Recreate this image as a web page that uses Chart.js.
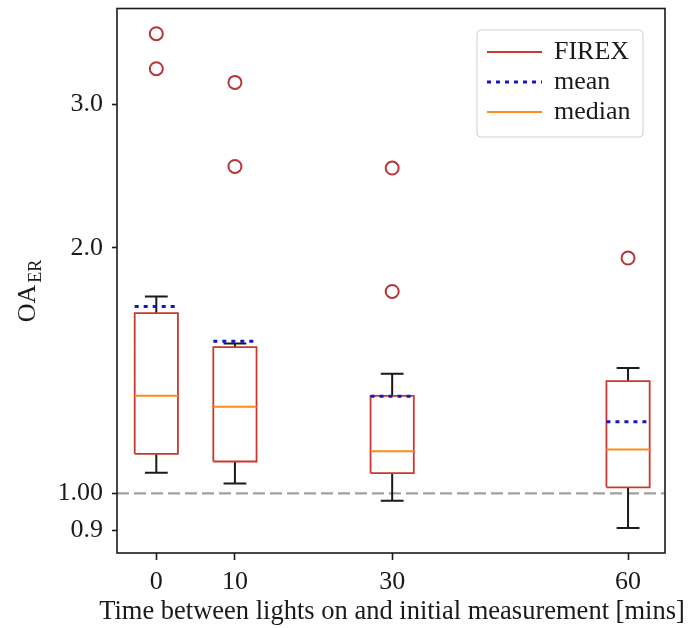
<!DOCTYPE html>
<html>
<head>
<meta charset="utf-8">
<script src="https://cdn.jsdelivr.net/npm/chart.js@4"></script>
<style>
  body { margin: 0; background: #fff; }
</style>
</head>
<body>
<canvas id="boxChart" width="692" height="628"></canvas>
<script>
const times = [0, 10, 30, 60];
const whiskerLow = [1.06, 1.028, 0.979, 0.907];
const q1 = [1.118, 1.094, 1.059, 1.017];
const medians = [1.317, 1.277, 1.126, 1.132];
const q3 = [1.663, 1.511, 1.317, 1.373];
const whiskerHigh = [1.743, 1.527, 1.402, 1.424];
const means = [1.695, 1.536, 1.315, 1.224];
const outliers = [[3.66, 3.316], [3.19, 2.516], [2.505, 1.768], [1.943]];
const xTicks = [0, 10, 30, 60];
const yTicks = [0.9, 1.0, 2.0, 3.0];
const refValue = 1.0;

const xMin = -5, xMax = 64.7;
const BOX = 2.75, CAP = 1.45;
const serif = "'Liberation Serif', 'Times New Roman', serif";
const ink = '#1a1a1a';
const xTitle = 'Time between lights on and initial measurement [mins]';

// build segment lists (null y = break in the line)
const boxPts = [], whiskerPts = [], medPts = [], meanPts = [], outPts = [];
times.forEach((t, i) => {
  boxPts.push({x: t - BOX, y: q1[i]}, {x: t + BOX, y: q1[i]}, {x: t + BOX, y: q3[i]},
              {x: t - BOX, y: q3[i]}, {x: t - BOX, y: q1[i]}, {x: t, y: null});
  whiskerPts.push({x: t, y: q3[i]}, {x: t, y: whiskerHigh[i]}, {x: t, y: null},
                  {x: t - CAP, y: whiskerHigh[i]}, {x: t + CAP, y: whiskerHigh[i]}, {x: t, y: null},
                  {x: t, y: q1[i]}, {x: t, y: whiskerLow[i]}, {x: t, y: null},
                  {x: t - CAP, y: whiskerLow[i]}, {x: t + CAP, y: whiskerLow[i]}, {x: t, y: null});
  medPts.push({x: t - BOX, y: medians[i]}, {x: t + BOX, y: medians[i]}, {x: t, y: null});
  meanPts.push({x: t - BOX, y: means[i]}, {x: t + BOX, y: means[i]}, {x: t, y: null});
  outliers[i].forEach(v => outPts.push({x: t, y: v}));
});

const lineDefaults = {type: 'line', pointRadius: 0, fill: false, spanGaps: false, borderJoinStyle: 'miter'};

const datasets = [
  {...lineDefaults, label: 'ref', data: [{x: xMin, y: refValue}, {x: xMax, y: refValue}],
   borderColor: '#a0a0a0', borderWidth: 2.2, borderDash: [12, 5], order: 6},
  {...lineDefaults, label: 'whiskers', data: whiskerPts, borderColor: '#1a1a1a', borderWidth: 2, order: 5},
  {...lineDefaults, label: 'FIREX', data: boxPts, borderColor: '#c8392f', borderWidth: 1.8, order: 4},
  {...lineDefaults, label: 'median', data: medPts, borderColor: '#ff8c1a', borderWidth: 2, order: 3},
  {...lineDefaults, label: 'mean', data: meanPts, borderColor: '#1414c8', borderWidth: 3, borderDash: [4, 5], order: 2},
  {type: 'scatter', label: 'outliers', data: outPts, pointRadius: 6.5, pointBorderWidth: 2,
   pointBackgroundColor: 'rgba(0,0,0,0)', pointBorderColor: '#b8343a', order: 1}
];

const frameAndLabels = {
  id: 'frameAndLabels',
  afterDraw(chart) {
    const {ctx, chartArea: a} = chart;
    ctx.save();
    ctx.strokeStyle = ink;
    ctx.lineWidth = 1.6;
    ctx.strokeRect(a.left, a.top, a.right - a.left, a.bottom - a.top);

    // x axis title (drawn here so it is not squeezed to the axis width)
    ctx.fillStyle = ink;
    ctx.font = '26.5px ' + serif;
    ctx.textAlign = 'center';
    ctx.textBaseline = 'alphabetic';
    ctx.fillText(xTitle, 392, 619);

    // y axis title with subscript
    ctx.textAlign = 'left';
    ctx.translate(35, 291);
    ctx.rotate(-Math.PI / 2);
    ctx.font = '26px ' + serif;
    const wMain = ctx.measureText('OA').width;
    ctx.font = '18px ' + serif;
    const wSub = ctx.measureText('ER').width;
    const start = -(wMain + wSub + 2) / 2;
    ctx.font = '26px ' + serif;
    ctx.fillText('OA', start, 0);
    ctx.font = '18px ' + serif;
    ctx.fillText('ER', start + wMain + 2, 6);
    ctx.restore();

    // legend
    const items = ['FIREX', 'mean', 'median'].map(l => chart.data.datasets.find(d => d.label === l));
    const lx = 477, ly = 30, lw = 166, lh = 107;
    ctx.save();
    ctx.beginPath();
    ctx.roundRect(lx, ly, lw, lh, 4);
    ctx.fillStyle = 'rgba(255,255,255,0.85)';
    ctx.fill();
    ctx.strokeStyle = '#cfcfcf';
    ctx.lineWidth = 1;
    ctx.stroke();
    ctx.font = '26px ' + serif;
    ctx.textBaseline = 'middle';
    items.forEach((d, i) => {
      const y = ly + 22 + i * 30;
      ctx.beginPath();
      ctx.strokeStyle = d.borderColor;
      ctx.lineWidth = d.label === 'mean' ? 3 : 2;
      ctx.setLineDash(d.borderDash || []);
      ctx.moveTo(lx + 10, y);
      ctx.lineTo(lx + 65, y);
      ctx.stroke();
      ctx.setLineDash([]);
      ctx.fillStyle = ink;
      ctx.fillText(d.label, lx + 77, y);
    });
    ctx.restore();
  }
};

new Chart(document.getElementById('boxChart'), {
  data: {datasets},
  options: {
    responsive: false,
    devicePixelRatio: 1,
    animation: false,
    layout: {padding: {top: 8, right: 27, left: 0, bottom: 0}},
    plugins: {legend: {display: false}, tooltip: {enabled: false}},
    scales: {
      x: {
        type: 'linear', min: xMin, max: xMax,
        afterBuildTicks: s => { s.ticks = xTicks.map(v => ({value: v})); },
        afterFit: s => { s.height = 75; s.paddingLeft = 0; s.paddingRight = 0; },
        ticks: {color: ink, font: {family: serif, size: 26}, padding: 7},
        grid: {drawOnChartArea: false, tickLength: 7, tickColor: ink, tickWidth: 1.6},
        border: {display: false}
      },
      y: {
        type: 'logarithmic', min: 0.845, max: 3.93,
        afterBuildTicks: s => { s.ticks = yTicks.map(v => ({value: v})); },
        afterFit: s => { s.width = 117; s.paddingTop = 0; s.paddingBottom = 0; },
        ticks: {color: ink, font: {family: serif, size: 26}, padding: 9,
                callback: v => v === 1 ? '1.00' : v.toFixed(1)},
        grid: {drawOnChartArea: false, tickLength: 5, tickColor: ink, tickWidth: 1.6},
        border: {display: false}
      }
    }
  },
  plugins: [frameAndLabels]
});
</script>
</body>
</html>
